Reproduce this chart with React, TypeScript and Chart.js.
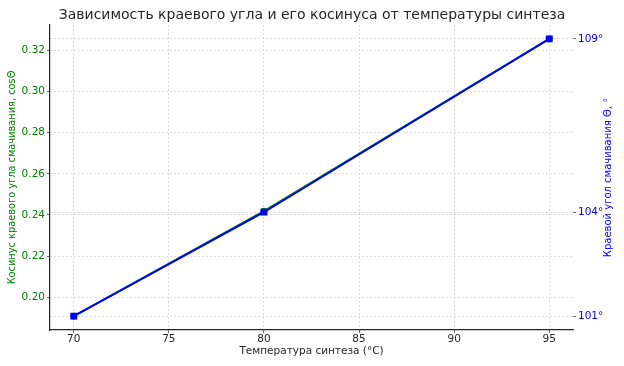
import React, { useEffect, useRef } from 'react';
import { Chart, registerables } from 'chart.js';

Chart.register(...registerables);

const temperatures = [70, 80, 95];
const cosValues = [0.1908, 0.2419, 0.3256];
const angleValues = [101, 104, 109];
const xTicks = [70, 75, 80, 85, 90, 95];
const cosTicks = [0.2, 0.22, 0.24, 0.26, 0.28, 0.3, 0.32];
const angleTicks = [101, 104, 109];
const rightTitle = 'Краевой угол смачивания Θ, °';

const FONT = "'DejaVu Sans', sans-serif";

function padRange(vals: number[], m = 0.05) {
  const lo = Math.min(...vals);
  const hi = Math.max(...vals);
  const d = (hi - lo) * m;
  return [lo - d, hi + d];
}

const rightTitlePlugin = {
  id: 'rightTitle',
  afterDraw(chart: any) {
    const { ctx, chartArea } = chart;
    const y1 = chart.scales.y1;
    ctx.save();
    ctx.font = `10px ${FONT}`;
    ctx.fillStyle = '#0000ff';
    ctx.textAlign = 'center';
    ctx.textBaseline = 'middle';
    ctx.translate(y1.right - 16, (chartArea.top + chartArea.bottom) / 2);
    ctx.rotate(-Math.PI / 2);
    ctx.fillText(rightTitle, 0, 0);
    ctx.restore();
  },
};

export default function App() {
  const ref = useRef<HTMLCanvasElement | null>(null);

  useEffect(() => {
    document.body.style.margin = '0';
    const canvas = ref.current;
    if (!canvas) return;
    const [xMin, xMax] = padRange(temperatures);
    const [yMin, yMax] = padRange(cosValues);
    const [y1Min, y1Max] = padRange(angleValues);

    const gridColor = '#d4d4d4';
    const chart = new Chart(canvas, {
      type: 'line',
      data: {
        datasets: [
          {
            label: 'Краевой угол',
            data: temperatures.map((t, i) => ({ x: t, y: angleValues[i] })),
            yAxisID: 'y1',
            borderColor: '#0000ff',
            backgroundColor: '#0000ff',
            borderWidth: 1.8,
            pointStyle: 'rect',
            pointRadius: 3.6,
            order: 0,
          },
          {
            label: 'cosΘ',
            data: temperatures.map((t, i) => ({ x: t, y: cosValues[i] })),
            yAxisID: 'y',
            borderColor: '#008000',
            backgroundColor: '#008000',
            borderWidth: 1.8,
            pointStyle: 'circle',
            pointRadius: 2.5,
            order: 1,
          },
        ],
      },
      plugins: [rightTitlePlugin],
      options: {
        responsive: false,
        animation: false,
        layout: { padding: 0 },
        plugins: {
          legend: { display: false },
          tooltip: { enabled: false },
          title: {
            display: true,
            text: 'Зависимость краевого угла и его косинуса от температуры синтеза',
            color: '#262626',
            font: { family: FONT, size: 14, weight: 'normal' },
            padding: { top: 7, bottom: 1.2 },
          },
        },
        scales: {
          x: {
            type: 'linear',
            min: xMin,
            max: xMax,
            afterFit: (s: any) => { s.height = 36; },
            afterBuildTicks: (s: any) => { s.ticks = xTicks.map((v) => ({ value: v })); },
            ticks: {
              color: '#262626',
              font: { family: FONT, size: 10.5 },
              padding: 0,
              maxRotation: 0,
              callback: (v: any) => String(v),
            },
            grid: { color: gridColor, lineWidth: 0.8, tickColor: '#444', tickLength: 3, tickWidth: 0.8 },
            border: { display: true, color: '#262626', width: 1.2, dash: [2, 2] },
            title: {
              display: true,
              text: 'Температура синтеза (°C)',
              color: '#262626',
              font: { family: FONT, size: 10.5 },
              padding: { top: 0, bottom: 8 },
            },
          },
          y: {
            type: 'linear',
            position: 'left',
            min: yMin,
            max: yMax,
            afterFit: (s: any) => { s.width = 50; },
            afterBuildTicks: (s: any) => { s.ticks = cosTicks.map((v) => ({ value: v })); },
            ticks: {
              color: '#008000',
              font: { family: FONT, size: 10.5 },
              padding: 2,
              callback: (v: any) => Number(v).toFixed(2),
            },
            grid: { color: gridColor, lineWidth: 0.8, tickColor: '#444', tickLength: 3, tickWidth: 0.8 },
            border: { display: true, color: '#262626', width: 1.2, dash: [2, 2] },
            title: {
              display: true,
              text: 'Косинус краевого угла смачивания, cosΘ',
              color: '#008000',
              font: { family: FONT, size: 9.8 },
              padding: { top: 7, bottom: 0 },
            },
          },
          y1: {
            type: 'linear',
            position: 'right',
            min: y1Min,
            max: y1Max,
            afterFit: (s: any) => { s.width = 51; },
            afterBuildTicks: (s: any) => { s.ticks = angleTicks.map((v) => ({ value: v })); },
            ticks: {
              color: '#0000ff',
              font: { family: FONT, size: 10.5 },
              padding: 2,
              callback: (v: any) => `${v}°`,
            },
            grid: { color: gridColor, lineWidth: 0.8, tickColor: '#444', tickLength: 3, tickWidth: 0.8 },
            border: { display: false, dash: [2, 2] },
            title: { display: false },
          },
        },
      },
    });
    return () => chart.destroy();
  }, []);

  return (
    <div style={{ width: 624, height: 366, background: '#fff' }}>
      <canvas ref={ref} width={624} height={366} style={{ display: 'block', width: 624, height: 366 }} />
    </div>
  );
}
